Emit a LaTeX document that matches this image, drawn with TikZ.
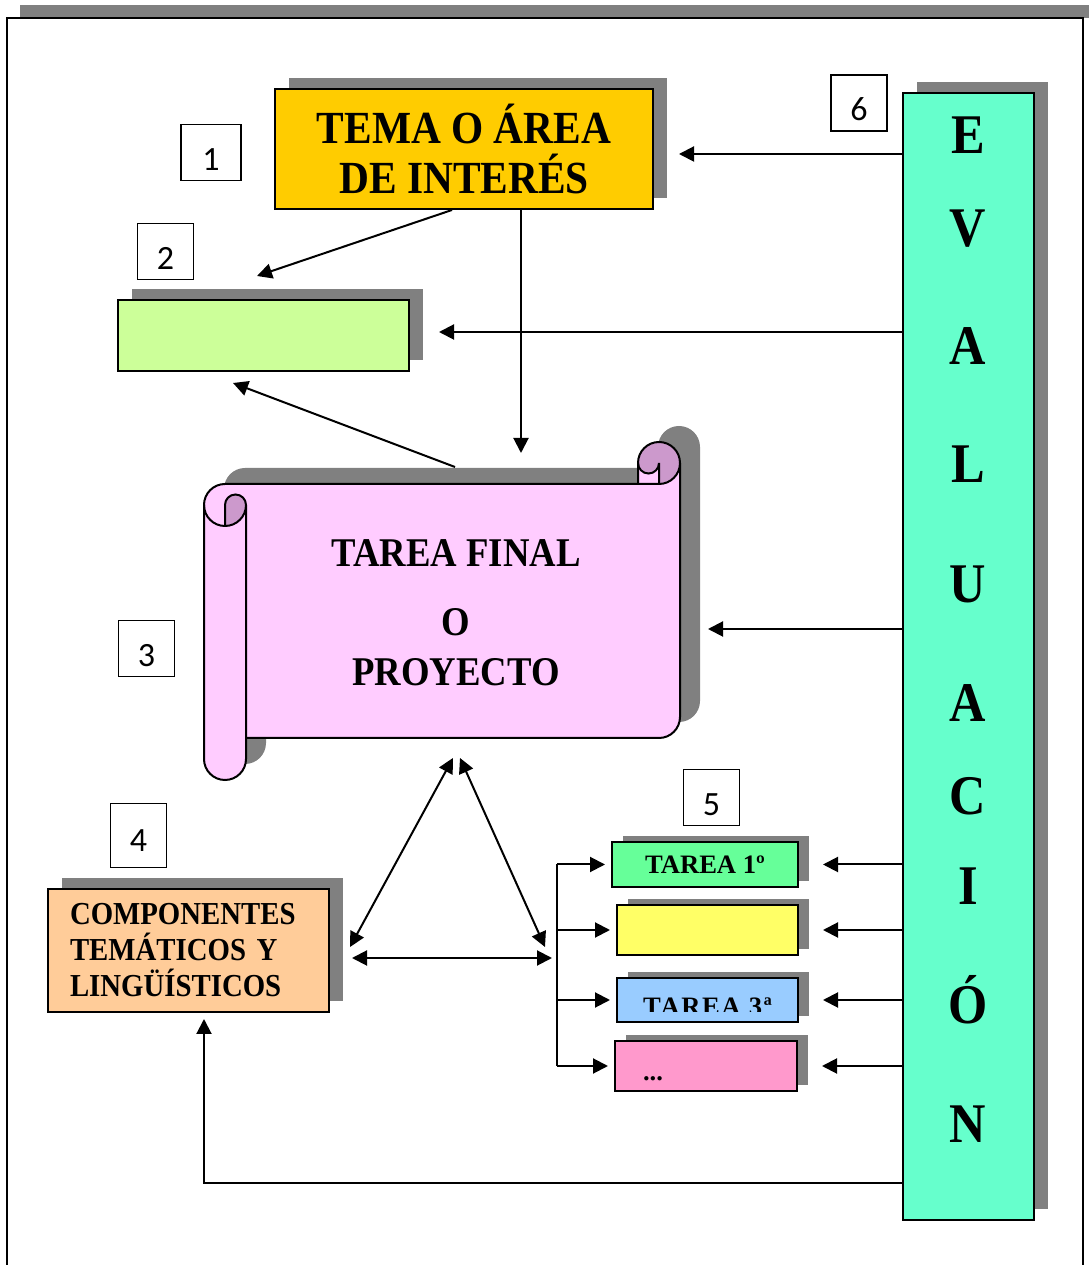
\documentclass[tikz,border=0pt]{standalone}
\usepackage{fontspec}
\setmainfont{Liberation Serif}
\newfontfamily\narrowfont[FakeStretch=0.9]{Liberation Serif}
\newfontfamily\numfont{Carlito}
\usetikzlibrary{shadows,arrows.meta}

\definecolor{gris}{HTML}{808080}
\definecolor{oro}{HTML}{FFCC00}
\definecolor{verdeclaro}{HTML}{CCFF99}
\definecolor{rosaclaro}{HTML}{FFCCFF}
\definecolor{malva}{HTML}{CC99CC}
\definecolor{melocoton}{HTML}{FFCC99}
\definecolor{turquesa}{HTML}{66FFCC}
\definecolor{verde}{HTML}{66FF99}
\definecolor{amarillo}{HTML}{FFFF66}
\definecolor{celeste}{HTML}{99CCFF}
\definecolor{rosa}{HTML}{FF99CC}

% contorno del pergamino
\newcommand{\pergamino}{(204,760) arc (180:90:21) -- (638,781) -- (638,802)
  arc (180:0:21) -- (680,548) arc (0:-90:21) -- (246,527) -- (246,506)
  arc (0:-180:21) -- cycle}

\begin{document}
\begin{tikzpicture}[x=.5pt, y=.5pt,
  caja/.style={draw, line width=1pt, inner sep=0pt,
    drop shadow={shadow xshift=7pt,shadow yshift=5.5pt,fill=gris,opacity=1}},
  tarea/.style={draw, line width=1pt, inner sep=0pt, minimum width=90.5pt,
    minimum height=25pt, font=\fontsize{13.3}{15}\selectfont\bfseries,
    drop shadow={shadow xshift=5.5pt,shadow yshift=3pt,fill=gris,opacity=1}},
  numero/.style={draw, fill=white, line width=.7pt, inner sep=0pt,
    minimum width=28pt, text height=23pt, text depth=5pt,
    font=\fontsize{17}{17}\numfont},
  flecha/.style={line width=1pt, -{Triangle[length=7.5pt,width=7.5pt]}},
  doble/.style={line width=1pt, {Triangle[length=7.5pt,width=7.5pt]}-{Triangle[length=7.5pt,width=7.5pt]}},
  letra/.style={anchor=base, font=\fontsize{28}{28}\narrowfont\bfseries}
  ]
  \useasboundingbox (0,0) rectangle (1089,1265);
  % marco
  \fill[gris] (20,1247) rectangle (1089,1260);
  \draw[line width=1.2pt] (7,0) -- (7,1247) -- (1083,1247) -- (1083,0);

  % cajas
  \node[caja, fill=oro, minimum width=189pt, minimum height=60pt, align=center,
    font=\fontsize{23}{25}\narrowfont\bfseries] (tema) at (464,1116)
    {TEMA O ÁREA\\DE INTERÉS};
  \node[caja, fill=verdeclaro, minimum width=145.5pt, minimum height=35.5pt]
    (interes) at (263.5,929.5) {};
  \node[caja, fill=melocoton, minimum height=61.5pt, text width=118.5pt,
    inner xsep=11pt, align=left, font=\fontsize{16}{18}\narrowfont\bfseries]
    (componentes) at (188.5,314.5) {COMPONENTES\\TEMÁTICOS Y\\LINGÜÍSTICOS};
  \node[caja, fill=turquesa, minimum width=65.5pt, minimum height=563.5pt]
    (evaluacion) at (968.5,608.5) {};
  \foreach \l/\b in {E/154,V/247,A/365,L/483,U/603,A/722,C/815,I/905,Ó/1024,N/1143}
    \node[letra] at (968,{1265-\b}) {\l};

  % pergamino
  \fill[gris, shift={(20,16)}] \pergamino;
  \fill[rosaclaro] \pergamino;
  \fill[malva] (225,739) arc (-90:0:21) arc (0:180:10.5) -- cycle;
  \fill[malva] (659,781) arc (-90:180:21) arc (180:360:10.5) -- cycle;
  \draw[line width=1pt] \pergamino;
  \draw[line width=1pt] (638,781) -- (659,781) arc (-90:0:21)
    (659,781) -- (659,802) arc (0:-180:10.5)
    (225,739) -- (225,760) arc (180:0:10.5) arc (0:-180:21)
    (246,760) -- (246,527);
  \node[font=\fontsize{20.4}{25}\narrowfont\bfseries, align=center, inner sep=0pt]
    (final) at (456,652) {TAREA FINAL\\[9.5pt]O\\PROYECTO};
  \coordinate (final-der) at (680,636);
  \coordinate (final-sup) at (455,798);
  \coordinate (final-ent) at (521,812);

  % tareas
  \node[tarea, fill=verde, minimum width=93pt, minimum height=22.5pt] (tarea1)
    at (705,400.5) {TAREA 1º};
  \node[tarea, fill=amarillo] (tarea2) at (707.5,335) {};
  \node[tarea, fill=celeste, minimum height=22pt] (tarea3) at (707.5,265) {};
  \begin{scope}
    \clip (tarea3.north west) rectangle ([yshift=-6pt]tarea3.east);
    \node[anchor=base, font=\fontsize{13.3}{15}\selectfont\bfseries] (tarea3-txt)
      at ([yshift=-8pt]tarea3.center) {\addfontfeature{LetterSpace=6}TAREA 3ª};
  \end{scope}
  \node[tarea, fill=rosa, minimum width=91pt] (tarea4) at (706,199) {};
  \node[anchor=base west, font=\fontsize{13.3}{15}\selectfont\bfseries] (tarea4-txt)
    at ([xshift=11pt,yshift=-7.5pt]tarea4.west) {...};

  % numeros
  \node[numero, minimum width=30pt] (n1) at (211,1112.5) {1};
  \node[numero] (n2) at (165.5,1013.5) {2};
  \node[numero] (n3) at (146.5,616.5) {3};
  \node[numero, text height=24pt, text depth=8pt] (n4) at (138.5,429.5) {4};
  \node[numero] (n5) at (711.5,467.5) {5};
  \node[numero] (n6) at (859,1162) {6};

  % flechas
  \coordinate (p-tema) at ([xshift=12.5pt,yshift=-2.5pt]tema.east);
  \coordinate (p-interes) at ([xshift=14.5pt,yshift=1.75pt]interes.east);
  \coordinate (retorno) at (204,82);
  \coordinate (corchete) at (557,0);
  \draw[flecha] (evaluacion.west |- p-tema) -- (p-tema);
  \draw[flecha] (evaluacion.west |- p-interes) -- (p-interes);
  \draw[flecha] (evaluacion.west |- final-der) -- ([xshift=14pt]final-der);
  \draw[flecha] ([xshift=-6pt]tema.south) -- ([xshift=-3.25pt,yshift=11.5pt]interes.north);
  \draw[flecha] ([xshift=28.5pt]tema.south) -- (final-ent);
  \draw[flecha] (final-sup) -- ([xshift=-15.25pt,yshift=-5.5pt]interes.south);
  \foreach \t in {tarea1,tarea2,tarea3,tarea4}{
    \draw[flecha] (evaluacion.west |- \t.east) -- ([xshift=12pt]\t.east);
    \draw[flecha] (corchete |- \t.west) -- ([xshift=-3pt]\t.west);
  }
  \draw[line width=1pt] (corchete |- tarea1.west) -- (corchete |- tarea4.west);
  \draw[flecha] (evaluacion.west |- retorno) -- (retorno)
    -- ([xshift=7.75pt,yshift=-3pt]componentes.south);

  % triangulo
  \coordinate (v-izq) at (453,507);
  \coordinate (v-der) at (460,507);
  \coordinate (b-izq) at (350,318);
  \coordinate (b-der) at (545,318);
  \coordinate (h-izq) at (352,307);
  \coordinate (h-der) at (552,307);
  \draw[doble] (b-izq) -- (v-izq);
  \draw[doble] (v-der) -- (b-der);
  \draw[doble] (h-izq) -- (h-der);
\end{tikzpicture}
\end{document}
